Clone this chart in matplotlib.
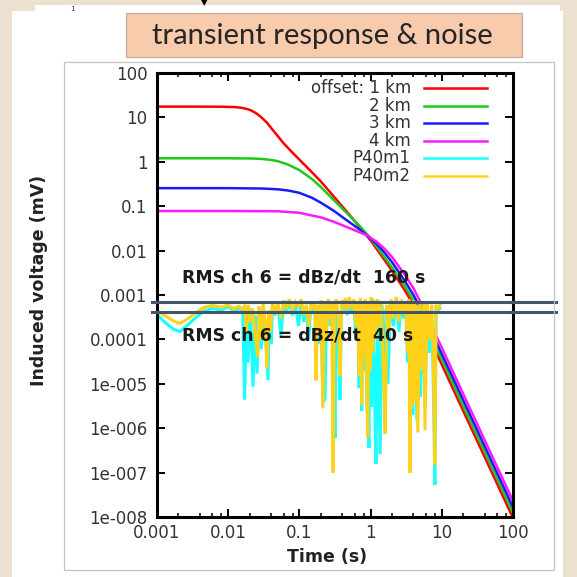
import matplotlib
matplotlib.use("Agg")
import matplotlib.pyplot as plt
from matplotlib.patches import Rectangle
from matplotlib.ticker import FixedLocator, NullFormatter, LogLocator
import matplotlib.transforms as mtransforms

# ---------------- data ----------------
x_ticks = [1e-3, 1e-2, 1e-1, 1, 10, 100]
x_tick_labels = ["0.001", "0.01", "0.1", "1", "10", "100"]
y_ticks = [1e-8, 1e-7, 1e-6, 1e-5, 1e-4, 1e-3, 1e-2, 1e-1, 1, 10, 100]
y_tick_labels = ["1e-008", "1e-007", "1e-006", "1e-005", "0.0001", "0.001",
                 "0.01", "0.1", "1", "10", "100"]

# transient responses for the four offsets
t_1km = [0.001, 0.003, 0.008, 0.012, 0.015, 0.018, 0.02, 0.022, 0.025, 0.028,
         0.031, 0.035, 0.045, 0.059, 0.08, 0.1, 0.15, 0.2, 0.3, 0.5, 0.7, 1,
         1.5, 2, 3, 4, 5, 7, 10, 20, 50, 100]
v_1km = [17.5, 17.5, 17.4, 17.1, 16.6, 15.6, 14.8, 13.8, 12.2, 10.6,
         9.2, 7.6, 4.6, 2.7, 1.6, 1.12, 0.58, 0.36, 0.17, 0.065, 0.034, 0.017,
         0.0068, 0.0035, 0.0013, 6.0e-4, 2.9e-4, 9.2e-5, 2.7e-5, 2.45e-6,
         1.04e-7, 9.5e-9]

t_2km = [0.001, 0.01, 0.02, 0.03, 0.04, 0.05, 0.07, 0.1, 0.15, 0.2, 0.3, 0.5,
         0.7, 1, 1.5, 2, 3, 4, 5, 7, 10, 20, 50, 100]
v_2km = [1.2, 1.2, 1.19, 1.16, 1.1, 1.03, 0.86, 0.65, 0.41, 0.27, 0.14, 0.062,
         0.036, 0.019, 0.0078, 0.0042, 0.0016, 7.6e-4, 3.8e-4, 1.2e-4, 3.6e-5,
         3.2e-6, 1.37e-7, 1.25e-8]

t_3km = [0.001, 0.01, 0.03, 0.05, 0.07, 0.1, 0.15, 0.2, 0.3, 0.5, 0.7, 0.89,
         1.2, 1.5, 2, 3, 4, 5, 7, 10, 20, 50, 100]
v_3km = [0.255, 0.255, 0.25, 0.24, 0.225, 0.2, 0.155, 0.12, 0.08, 0.044, 0.03,
         0.022, 0.0145, 0.0098, 0.0055, 0.0021, 1.0e-3, 5.0e-4, 1.6e-4, 4.7e-5,
         4.3e-6, 1.82e-7, 1.66e-8]

t_4km = [0.001, 0.01, 0.05, 0.1, 0.2, 0.3, 0.56, 0.89, 1.2, 1.5, 2, 3, 4, 5, 7,
         10, 20, 50, 100]
v_4km = [0.078, 0.078, 0.077, 0.071, 0.056, 0.045, 0.03, 0.022, 0.016, 0.0118,
         0.0072, 0.0029, 1.42e-3, 7.0e-4, 2.2e-4, 6.5e-5, 5.9e-6, 2.5e-7, 2.3e-8]

# measured noise records
t_p40m1 = [0.001, 0.0013, 0.0017, 0.0021, 0.0027, 0.0035, 0.0045, 0.006, 0.008,
           0.01, 0.012, 0.014, 0.016, 0.017, 0.018, 0.019, 0.0205, 0.0223, 0.024,
           0.0254, 0.027, 0.029, 0.031, 0.033, 0.0362, 0.038, 0.04, 0.042, 0.045,
           0.05, 0.055, 0.06, 0.066, 0.072, 0.08, 0.088, 0.097, 0.106, 0.115,
           0.125, 0.135, 0.145, 0.155, 0.165, 0.171, 0.18, 0.19, 0.2, 0.214,
           0.229, 0.24, 0.255, 0.27, 0.285, 0.3, 0.316, 0.33, 0.35, 0.372, 0.39,
           0.41, 0.44, 0.47, 0.5, 0.54, 0.58, 0.62, 0.66, 0.69, 0.72, 0.75, 0.78,
           0.81, 0.84, 0.88, 0.95, 0.98, 1.02, 1.07, 1.12, 1.19, 1.25, 1.36, 1.45,
           1.55, 1.65, 1.75, 1.9, 2.1, 2.3, 2.5, 2.7, 2.9, 3.1, 3.3, 3.45, 3.6,
           3.75, 3.9, 4.1, 4.48, 4.7, 5.0, 5.4, 5.8, 6.2, 6.7, 7.2, 7.6, 8.0, 8.3,
           8.8, 9.4]
v_p40m1 = [3.6e-4, 2.4e-4, 1.7e-4, 1.5e-4, 2.1e-4, 3.1e-4, 4.3e-4, 5.0e-4, 4.6e-4,
           5.4e-4, 4.3e-4, 5.0e-4, 4.4e-4, 4.4e-6, 4.0e-4, 3.0e-5, 5.0e-4, 8.6e-6,
           3.5e-4, 1.7e-5, 5.0e-4, 6.0e-5, 5.0e-4, 2.0e-4, 1.2e-5, 4.0e-4, 8.0e-5,
           6.0e-4, 3.5e-4, 5.5e-4, 1.2e-4, 6.0e-4, 4.0e-4, 7.0e-4, 3.5e-4, 6.0e-4,
           2.0e-4, 7.0e-4, 2.5e-4, 5.0e-4, 1.0e-4, 6.0e-4, 4.0e-4, 6.0e-4, 2.0e-5,
           5.0e-4, 8.0e-5, 6.5e-4, 4.0e-6, 4.4e-6, 5.5e-4, 7.0e-4, 2.0e-4, 6.0e-4,
           1.5e-4, 6.0e-7, 7.0e-4, 2.0e-4, 4.4e-6, 6.5e-4, 4.5e-4, 7.5e-4, 3.5e-4,
           8.0e-4, 4.0e-4, 7.0e-4, 1.0e-4, 6.0e-4, 8.0e-6, 7.5e-4, 2.5e-6, 5.0e-4,
           2.0e-5, 7.0e-4, 5.0e-6, 3.6e-7, 6.0e-4, 3.0e-6, 8.0e-4, 2.0e-5, 1.6e-7,
           7.0e-4, 2.6e-7, 6.0e-4, 1.0e-5, 5.0e-4, 1.0e-5, 7.0e-4, 2.0e-4, 8.0e-4,
           1.5e-4, 7.0e-4, 3.0e-4, 6.0e-4, 3.0e-5, 7.0e-4, 5.0e-6, 5.5e-4, 2.0e-6,
           6.5e-4, 1.5e-6, 5.5e-4, 5.0e-6, 6.0e-4, 3.0e-6, 6.0e-4, 5.0e-5, 5.5e-4,
           1.0e-5, 5.3e-8, 5.5e-4, 4.5e-4, 5.0e-4]

t_p40m2 = [0.001, 0.0013, 0.0017, 0.0021, 0.0027, 0.0035, 0.0045, 0.006, 0.008,
           0.01, 0.012, 0.014, 0.016, 0.017, 0.018, 0.019, 0.0205, 0.022, 0.024,
           0.026, 0.027, 0.029, 0.031, 0.033, 0.035, 0.037, 0.039, 0.042, 0.045,
           0.05, 0.055, 0.06, 0.066, 0.072, 0.08, 0.088, 0.097, 0.106, 0.115,
           0.125, 0.135, 0.145, 0.155, 0.165, 0.171, 0.18, 0.19, 0.2, 0.214,
           0.225, 0.24, 0.255, 0.27, 0.285, 0.297, 0.31, 0.33, 0.35, 0.372, 0.39,
           0.41, 0.44, 0.47, 0.5, 0.54, 0.58, 0.62, 0.66, 0.69, 0.72, 0.75, 0.78,
           0.81, 0.84, 0.88, 0.91, 0.94, 0.98, 1.02, 1.07, 1.12, 1.18, 1.25, 1.32,
           1.4, 1.5, 1.6, 1.7, 1.8, 1.95, 2.1, 2.3, 2.5, 2.7, 2.9, 3.1, 3.3, 3.45,
           3.57, 3.7, 3.85, 4.0, 4.2, 4.4, 4.6, 4.9, 5.3, 5.6, 5.8, 6.2, 6.7, 7.2,
           7.6, 8.0, 8.3, 8.8, 9.4]
v_p40m2 = [4.4e-4, 3.4e-4, 2.6e-4, 2.3e-4, 2.9e-4, 4.0e-4, 5.2e-4, 5.8e-4, 5.3e-4,
           6.0e-4, 4.9e-4, 5.6e-4, 4.8e-4, 5.5e-4, 1.5e-4, 6.0e-4, 2.5e-4, 5.0e-4,
           1.2e-4, 4.0e-5, 5.5e-4, 1.0e-4, 6.5e-4, 2.5e-4, 2.2e-5, 4.5e-4, 1.5e-4,
           7.0e-4, 4.0e-4, 6.5e-4, 3.0e-4, 7.5e-4, 5.0e-4, 8.0e-4, 4.5e-4, 7.0e-4,
           5.5e-4, 8.0e-4, 3.5e-4, 6.0e-4, 2.0e-4, 7.0e-4, 5.0e-4, 7.0e-4, 1.2e-5,
           6.0e-4, 1.5e-4, 7.5e-4, 2.8e-6, 6.5e-4, 1.0e-4, 8.0e-4, 3.0e-4, 7.0e-4,
           1.0e-7, 6.0e-4, 8.0e-4, 3.0e-4, 1.5e-5, 7.5e-4, 5.0e-4, 8.5e-4, 4.5e-4,
           9.0e-4, 5.0e-4, 8.0e-4, 2.0e-4, 7.0e-4, 1.5e-5, 8.5e-4, 3.4e-6, 6.0e-4,
           4.0e-5, 8.0e-4, 1.0e-5, 6.2e-7, 7.0e-4, 2.0e-5, 9.0e-4, 5.0e-5, 7.5e-4,
           1.0e-4, 8.0e-4, 2.0e-4, 7.0e-4, 3.0e-5, 7.6e-7, 6.0e-4, 1.5e-4, 8.0e-4,
           3.0e-4, 9.0e-4, 2.5e-4, 8.0e-4, 4.0e-4, 7.0e-4, 5.0e-5, 8.0e-4, 1.0e-7,
           6.0e-4, 3.0e-6, 7.5e-4, 4.0e-6, 6.0e-4, 8.0e-7, 7.0e-4, 2.0e-5, 6.5e-4,
           9.0e-7, 7.0e-4, 1.0e-4, 6.0e-4, 3.0e-5, 1.5e-7, 6.0e-4, 5.0e-4, 6.0e-4]

# RMS noise levels of channel 6
rms_160s = 6.85e-4
rms_40s = 4.07e-4

series = [
    ("offset: 1 km", t_1km, v_1km, "#ff0000"),
    ("2 km", t_2km, v_2km, "#1ec81e"),
    ("3 km", t_3km, v_3km, "#1a1aff"),
    ("4 km", t_4km, v_4km, "#ff1aff"),
    ("P40m1", t_p40m1, v_p40m1, "#1affff"),
    ("P40m2", t_p40m2, v_p40m2, "#ffd21a"),
]

# ---------------- figure ----------------
W = H = 577
DPI = 100
fig = plt.figure(figsize=(W / DPI, H / DPI), dpi=DPI)
fig.patch.set_facecolor("#ece0cf")


def fx(px):
    return px / W


def fy(py):
    return 1 - py / H


def frect(x0, y0, x1, y1, **kw):
    r = Rectangle((fx(x0), fy(y1)), (x1 - x0) / W, (y1 - y0) / H,
                  transform=fig.transFigure, **kw)
    fig.add_artist(r)
    return r


# slide panel, picture frame and title box
frect(12, 11, 563, 577, facecolor="white", edgecolor="none", zorder=0)
frect(35, 5, 560, 12, facecolor="white", edgecolor="none", zorder=0)
frect(64, 62, 554, 570, facecolor="none", edgecolor="#c4c4c4", lw=0.9, zorder=1)
frect(126, 13, 522, 57, facecolor="#f8cbad", edgecolor="#c2ab9c", lw=0.9, zorder=1)
fig.text(fx(322), fy(36), "transient response & noise", family="Lato",
         fontsize=21, color="#262626", ha="center", va="center")
fig.text(fx(72), fy(9), "1", fontsize=5, color="#333333", ha="center", va="center")
fig.text(fx(204), fy(3), "\u25bc", fontsize=6, color="black", ha="center",
         va="center")

ax = fig.add_axes([fx(157), fy(517), (513 - 157) / W, (517 - 73) / H])
ax.set_facecolor("white")
ax.set_xscale("log")
ax.set_yscale("log")
ax.set_xlim(1e-3, 100)
ax.set_ylim(1e-8, 100)

for label, t, v, c in series:
    lw = 2.2 if label.startswith("P40") else 1.8
    ax.plot(t, v, color=c, lw=lw, solid_joinstyle="miter", zorder=2)

# axes frame and ticks
for s in ax.spines.values():
    s.set_linewidth(2.2)
    s.set_color("black")
    s.set_zorder(5)

tick_font = dict(family="DejaVu Sans", size=12)
ax.xaxis.set_major_locator(FixedLocator(x_ticks))
ax.set_xticklabels(x_tick_labels, **tick_font, color="#333333")
ax.xaxis.set_minor_locator(LogLocator(base=10, subs=(2, 4, 6, 8), numticks=20))
ax.xaxis.set_minor_formatter(NullFormatter())
ax.yaxis.set_major_locator(FixedLocator(y_ticks))
ax.set_yticklabels(y_tick_labels, **tick_font, color="#333333")
ax.yaxis.set_minor_locator(FixedLocator([]))
ax.tick_params(which="major", direction="in", length=6, width=1.4,
               top=True, right=True, pad=5)
ax.tick_params(which="minor", direction="in", length=3, width=1.1,
               top=True, right=True)
ax.tick_params(axis="y", pad=7)

ax.set_xlabel("Time (s)", family="DejaVu Sans", fontsize=12.5,
              fontweight="bold", color="#222222")
ax.xaxis.set_label_coords((327 - 157) / 356, -(548 - 517) / 444)
ax.set_ylabel("Induced voltage (mV)", family="DejaVu Sans", fontsize=12.5,
              fontweight="bold", color="#222222")
ax.yaxis.set_label_coords((48 - 157) / 356, 1 - (280 - 73) / 444)

# key: label on the left, line sample on the right
key_rows = [88.3, 106, 123.3, 140.7, 158.3, 176]
for (label, t, v, c), ry in zip(series, key_rows):
    yy = 1 - (ry - 73) / 444
    ax.plot([0.75, 0.927], [yy, yy], transform=ax.transAxes, color=c, lw=1.8,
            clip_on=False, zorder=6)
    ax.text(0.713, yy, label, transform=ax.transAxes, ha="right", va="center",
            family="DejaVu Sans", fontsize=12, color="#333333", zorder=6)

# RMS levels drawn across the panel
blend = mtransforms.blended_transform_factory(fig.transFigure, ax.transData)
for lvl in (rms_160s, rms_40s):
    ax.plot([fx(152), fx(556)], [lvl, lvl], transform=blend, color="#44546a",
            lw=2.2, clip_on=False, zorder=7)

rms_font = dict(family="DejaVu Sans", fontweight="bold", fontsize=12.4,
                color="#1a1a1a", ha="left", va="center", zorder=8)
ax.text(fx(182), fy(278), "RMS ch 6 = dBz/dt  160 s", transform=fig.transFigure,
        **rms_font)
ax.text(fx(182), fy(335), "RMS ch 6 = dBz/dt  40 s", transform=fig.transFigure,
        **rms_font)

fig.savefig("out.png", dpi=DPI)
